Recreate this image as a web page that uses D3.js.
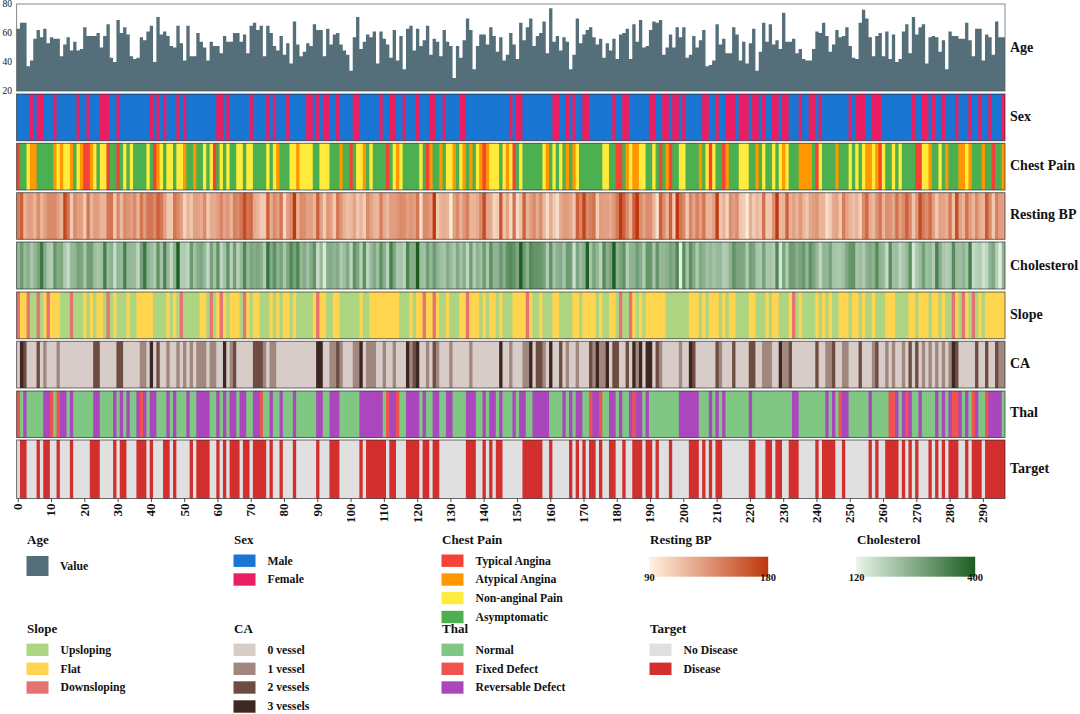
<!DOCTYPE html>
<html><head><meta charset="utf-8">
<script src="https://cdn.jsdelivr.net/npm/d3@7"></script>
<style>
html,body{margin:0;padding:0;background:#fff}
svg{display:block}
text{font-family:"Liberation Serif","Times New Roman",serif;font-weight:bold;fill:#111}
</style></head><body>
<svg id="c" width="1080" height="714"></svg>
<script>
const age=[63,67,67,37,41,56,62,57,63,53,57,56,56,44,52,57,48,54,48,49,64,58,58,58,60,50,58,66,43,40,69,60,64,59,44,42,43,57,55,61,65,40,71,59,61,58,51,50,65,53,41,65,44,44,60,54,50,41,54,51,51,46,58,54,54,60,60,54,59,46,65,67,62,65,44,65,60,51,48,58,45,53,39,68,52,44,47,53,51,66,62,62,44,63,52,59,60,52,48,45,34,57,71,49,54,59,57,61,39,61,56,52,43,62,41,58,35,63,65,48,63,51,55,65,45,56,54,44,62,54,51,29,51,43,55,70,62,35,51,59,59,52,64,58,47,57,41,45,60,52,42,67,55,64,70,51,58,60,68,46,77,54,58,48,57,54,35,45,70,53,59,62,64,57,52,56,43,53,48,56,42,59,60,63,42,66,54,69,50,51,62,68,67,69,45,50,59,50,64,57,64,43,45,58,50,55,62,37,38,41,66,52,56,46,46,64,59,41,54,39,53,63,34,47,67,54,66,52,55,49,74,54,54,56,46,49,42,41,41,49,61,60,67,58,47,52,62,57,58,64,51,43,42,67,76,70,57,44,58,60,44,61,42,59,40,42,61,66,46,71,59,64,66,39,57,58,57,47,55,35,61,58,58,56,56,67,55,44,63,63,41,59,57,45,68,57,57];
const sex=[1,1,1,1,0,1,0,0,1,1,1,0,1,1,1,1,1,1,0,1,1,0,1,1,1,0,0,0,1,1,0,1,1,1,1,1,1,1,1,1,0,1,0,1,0,1,1,1,0,1,0,1,1,1,1,1,1,1,1,1,0,0,1,0,1,1,1,1,1,1,0,1,1,1,1,0,1,0,1,1,1,0,1,1,1,1,1,0,0,1,0,1,0,0,1,1,0,1,1,1,1,0,0,1,1,1,1,1,1,0,1,1,0,0,1,1,0,1,1,1,0,1,1,1,0,0,1,1,0,1,1,1,1,0,0,1,1,1,1,1,1,1,1,1,1,1,1,1,0,1,0,0,1,1,1,1,1,1,1,1,1,0,0,1,1,0,1,0,1,1,0,0,1,1,1,1,1,1,1,0,1,1,0,0,1,1,1,1,1,1,0,0,1,1,0,0,1,0,0,1,0,1,1,1,1,1,0,0,1,1,0,1,1,0,0,0,1,0,0,0,1,0,0,1,0,1,1,0,0,1,0,0,1,1,1,0,1,1,0,0,1,0,1,1,1,1,1,1,1,1,0,1,0,0,0,1,1,0,0,0,1,1,1,1,1,1,1,1,1,0,1,1,0,0,1,0,1,1,0,1,1,1,0,1,1,1,0,1,1,0,1,1,0,1,1,1,0];
const chestPain=[1,4,4,3,2,2,4,4,4,4,4,2,3,2,3,3,2,4,3,2,1,1,2,3,4,3,3,1,4,4,1,4,3,4,3,4,4,4,4,3,4,1,2,3,4,3,3,4,3,3,2,4,4,2,4,4,3,4,3,1,4,3,4,3,4,4,3,3,4,3,3,4,4,4,4,3,4,3,2,4,4,4,3,3,2,3,3,3,3,4,4,3,3,3,4,4,4,2,4,4,1,4,3,3,2,4,3,4,4,4,4,1,4,3,2,3,4,4,4,4,4,3,4,1,2,4,4,2,4,3,3,2,4,3,2,4,2,4,3,2,1,2,3,3,3,4,3,2,3,1,4,3,4,4,4,4,4,4,3,2,4,3,4,3,4,2,4,2,3,4,4,4,4,4,4,4,3,3,4,4,1,1,4,2,3,2,2,3,3,4,4,3,4,1,4,2,1,4,4,3,3,4,4,4,4,2,4,3,1,3,4,4,1,2,4,4,4,3,3,3,4,4,2,4,3,4,4,3,4,3,2,3,4,4,4,2,2,2,2,4,1,3,4,4,4,4,2,4,4,4,3,4,3,4,3,2,2,3,2,1,3,4,4,3,4,3,4,4,4,4,1,1,3,3,2,4,4,3,4,2,4,4,4,2,2,3,2,4,4,4,2,4,4,1,4,4,2];
const restingBP=[145,160,120,130,130,120,140,120,130,140,140,140,130,120,172,150,110,140,130,130,110,150,120,132,130,120,120,150,150,110,140,117,140,135,130,140,120,150,132,150,150,140,160,150,130,112,110,150,140,130,105,120,112,130,130,124,140,110,125,125,130,142,128,135,120,145,140,150,170,150,155,125,120,110,110,160,125,140,130,150,104,130,140,180,120,140,138,128,130,120,160,130,108,135,128,110,150,134,122,115,118,128,110,120,108,140,128,120,118,145,125,118,132,130,135,140,138,130,135,130,150,100,140,138,130,200,110,120,124,120,94,130,140,122,135,145,120,120,125,140,170,128,125,105,108,165,112,128,102,152,102,115,160,120,130,140,125,140,118,101,125,110,100,124,132,132,126,112,160,142,174,140,145,152,108,132,130,130,124,134,148,178,158,140,120,160,192,140,129,140,138,120,100,160,138,120,160,110,180,150,140,110,142,128,144,130,150,120,120,130,178,112,120,105,138,130,138,112,108,94,123,108,118,112,152,110,112,136,180,118,120,160,122,130,120,134,120,110,126,130,134,120,120,100,110,125,128,110,146,128,120,115,120,106,140,156,124,118,136,150,120,138,136,126,152,130,140,160,140,112,134,170,146,138,154,130,110,130,128,122,148,114,170,130,120,152,132,120,140,124,120,164,140,110,144,130,130];
const cholesterol=[233,286,229,250,204,236,268,354,254,203,192,294,256,263,199,168,229,239,275,266,211,283,284,224,206,219,340,226,247,167,239,230,335,234,233,226,177,276,353,243,225,199,302,212,330,230,175,243,417,197,198,177,290,219,253,266,233,172,273,213,305,177,216,304,188,282,185,232,326,231,269,254,267,248,197,360,258,308,245,270,208,264,321,274,325,235,257,216,256,302,164,231,141,252,255,239,258,201,222,260,182,303,265,188,309,177,229,260,219,307,249,186,341,263,203,211,183,330,254,256,407,222,217,282,234,288,239,220,209,258,227,204,261,213,250,174,281,198,245,221,288,205,309,240,243,289,250,308,318,298,265,564,289,246,322,299,300,293,277,197,304,214,248,255,207,288,282,160,269,226,249,394,212,274,233,184,315,246,274,409,244,270,305,195,240,246,283,254,196,298,294,211,299,234,236,244,273,254,325,126,313,211,309,259,200,262,244,215,231,214,228,230,193,204,243,303,271,268,267,199,282,269,210,204,277,206,212,196,327,149,269,201,286,283,249,271,295,235,306,269,234,178,237,234,275,212,208,201,218,263,295,303,209,223,197,245,261,242,319,240,226,166,315,218,223,180,207,228,311,149,204,227,278,220,232,197,335,253,205,192,203,318,225,221,240,212,342,169,187,197,157,176,241,264,193,131,236];
const slope=[3,2,2,3,1,1,3,1,2,3,2,2,2,1,1,1,3,1,1,1,2,1,2,1,2,2,1,3,1,2,1,1,1,2,1,1,2,2,2,2,2,1,1,1,1,2,1,2,1,3,1,1,1,1,1,2,2,1,3,1,2,3,2,1,2,2,2,1,3,2,1,2,2,1,1,1,2,1,2,1,2,2,1,2,1,1,1,1,1,2,3,2,2,1,1,2,2,1,1,1,1,1,1,2,1,1,2,2,2,2,2,2,2,2,2,1,1,1,2,1,2,2,3,2,2,3,2,1,1,2,1,1,1,2,2,3,2,2,2,1,2,1,2,2,1,2,1,1,1,2,2,2,2,3,2,1,1,2,1,1,1,2,2,1,1,1,1,2,2,1,2,2,2,2,1,2,1,1,2,2,1,3,1,1,3,2,1,2,1,2,2,2,2,2,2,1,1,1,1,1,1,1,2,2,2,1,2,1,2,2,2,1,2,1,2,2,1,1,1,1,2,2,1,1,1,2,1,2,2,1,1,1,2,3,1,2,1,1,1,1,2,1,2,1,2,1,1,2,2,2,1,2,2,1,2,1,1,2,1,1,1,2,2,2,1,1,1,1,2,2,1,2,2,2,1,2,2,1,2,1,1,3,2,1,3,2,1,3,1,2,1,2,2,2,2,2,2];
const ca=[0,3,2,0,0,0,2,0,1,0,0,0,1,0,0,0,0,0,0,0,0,0,0,2,2,0,0,0,0,0,2,2,0,0,0,0,0,1,1,0,3,0,2,0,0,1,0,0,1,0,1,0,1,0,1,1,1,0,1,1,0,0,3,0,1,2,0,0,0,0,0,2,2,2,1,0,1,1,0,0,0,0,0,0,0,0,0,0,0,0,3,3,0,0,1,1,2,1,0,0,0,1,1,3,0,1,1,1,0,0,1,0,0,1,0,0,0,3,1,2,3,0,0,1,0,2,1,0,0,0,1,0,0,0,0,0,1,0,0,0,0,0,0,0,0,3,0,0,1,0,0,0,1,1,3,0,2,2,1,0,3,0,0,2,0,1,0,0,1,0,0,0,2,1,3,1,1,3,0,2,2,0,0,2,0,3,1,3,0,3,3,0,2,1,0,0,0,0,0,1,0,0,3,2,0,0,0,0,0,0,2,1,0,0,0,2,0,0,0,0,2,2,0,0,1,1,1,0,0,3,1,1,2,0,0,0,0,0,0,0,2,0,0,1,1,2,0,0,1,1,0,0,0,2,0,0,0,1,2,0,0,1,0,1,0,0,1,0,2,0,2,0,1,0,1,0,1,0,1,0,1,3,2,0,0,0,0,0,2,0,0,2,0,0,2,1,1];
const thal=[6,3,7,3,3,3,3,3,7,7,6,3,6,7,7,3,7,3,3,3,3,3,3,7,7,3,3,3,3,7,3,7,3,7,3,3,7,6,7,3,7,7,3,3,3,7,3,7,3,3,3,7,3,3,7,7,7,7,3,3,7,3,7,3,7,7,3,7,7,3,3,7,7,6,3,3,7,3,3,7,3,3,3,7,3,3,3,3,3,3,7,7,3,3,7,7,7,3,3,3,3,3,3,7,7,7,7,7,7,7,3,6,7,7,6,3,3,7,7,7,7,3,7,3,3,7,7,3,3,7,7,3,3,3,3,7,7,7,3,3,7,3,7,7,3,7,3,3,3,7,3,7,7,3,3,7,7,7,7,7,3,3,3,3,7,3,7,3,7,7,3,3,6,7,7,6,3,3,7,7,3,7,3,3,7,6,7,7,3,7,3,3,3,3,3,3,3,3,3,7,7,7,7,7,7,3,3,3,7,3,7,3,7,3,3,3,3,3,3,3,7,3,3,3,3,3,3,3,3,3,3,3,3,7,7,3,3,3,3,3,3,3,3,7,3,7,3,6,7,7,3,3,3,3,3,3,7,3,3,3,3,3,6,6,7,3,7,6,7,3,3,7,3,3,3,3,7,3,7,3,7,6,6,7,3,7,3,6,7,3,3,6,7,7,7,7,3];
const target=[0,1,1,0,0,0,1,0,1,1,0,0,1,0,0,0,1,0,0,0,0,0,1,1,1,0,0,0,0,1,0,1,1,0,0,0,1,1,1,0,1,0,0,0,1,1,0,1,0,0,0,0,1,0,1,1,1,1,0,0,1,0,1,0,1,1,1,0,1,1,0,1,1,1,1,0,1,0,0,1,0,0,0,1,0,0,0,0,0,0,1,0,0,0,1,1,1,0,0,0,0,0,0,1,0,1,1,1,1,1,1,0,1,1,0,0,0,1,1,1,1,0,1,1,0,1,1,0,0,0,0,0,0,0,0,1,1,1,0,0,1,0,1,0,1,1,0,0,0,0,0,0,1,1,1,1,1,1,0,0,1,0,0,0,0,0,1,0,1,0,1,0,1,1,0,1,0,0,1,1,0,0,1,0,0,1,1,1,0,1,1,0,1,0,0,0,1,0,0,0,0,0,1,1,1,0,1,0,1,0,1,1,0,0,0,0,0,0,0,0,1,1,0,0,0,1,1,0,1,1,0,0,1,1,1,0,0,0,0,0,1,0,1,1,1,1,0,0,1,0,0,0,0,0,0,0,1,0,1,0,0,1,1,1,1,0,1,0,1,0,1,0,0,0,1,0,1,0,1,0,1,1,1,0,0,1,0,1,1,1,0,1,1,1,1,1,1];

const sexLabels=["Male","Female"], sexKeys=[1,0], sexColors=["#1976D2","#E91E63"];
const cpLabels=["Typical Angina","Atypical Angina","Non-anginal Pain","Asymptomatic"], cpKeys=[1,2,3,4], cpColors=["#F44336","#FF9800","#FFEB3B","#4CAF50"];
const slopeLabels=["Upsloping","Flat","Downsloping"], slopeKeys=[1,2,3], slopeColors=["#AED581","#FFD54F","#E57373"];
const caLabels=["0 vessel","1 vessel","2 vessels","3 vessels"], caKeys=[0,1,2,3], caColors=["#D7CCC8","#A1887F","#6D4C41","#3E2723"];
const thalLabels=["Normal","Fixed Defect","Reversable Defect"], thalKeys=[3,6,7], thalColors=["#81C784","#EF5350","#AB47BC"];
const targetLabels=["No Disease","Disease"], targetKeys=[0,1], targetColors=["#E0E0E0","#D32F2F"];
const ageTicks=[20,40,60,80];
const recordTicks=d3.range(0,291,10);

const svg=d3.select("#c");
const X0=16.6,X1=1005;
const n=age.length;
const x=d3.scaleBand().domain(d3.range(n)).range([X0,X1]).padding(0);
const bw=x.bandwidth();
const ord=(k,c)=>d3.scaleOrdinal().domain(k).range(c);
const clampLin=(d,r)=>d3.scaleLinear().domain(d).range(r).clamp(true);

const ageY=d3.scaleLinear().domain([20,80]).range([91,4]);
const ageColor="#546E7A";

function frameRect(y0,y1,col,op){
  svg.append("rect").attr("x",X0).attr("y",y0).attr("width",X1-X0).attr("height",y1-y0)
    .attr("fill","none").attr("stroke",col).attr("stroke-opacity",op).attr("stroke-width",1);
}
// Age: a single stepped area, so neighbouring bars leave no seams
const ageArea=d3.area().curve(d3.curveStepAfter)
  .x((d,i)=>i<n?x(i):X1).y0(ageY(20)).y1(d=>ageY(d));
svg.append("path").attr("d",ageArea(age.concat(age[n-1]))).attr("fill",ageColor);
frameRect(4,91,"#555",0.7);
ageTicks.forEach(t=>{svg.append("text").attr("x",12).attr("y",ageY(t)).attr("dy","0.33em")
  .attr("text-anchor","end").style("font-size","9.5px").style("font-weight","normal").text(t);});
svg.append("text").attr("x",1010).attr("y",47).attr("dy","0.33em").style("font-size","14px").text("Age");

const rows=[
 {name:"Sex",vals:sex,color:ord(sexKeys,sexColors),y0:94,y1:140.7,ly:116},
 {name:"Chest Pain",vals:chestPain,color:ord(cpKeys,cpColors),y0:143.3,y1:190,ly:165},
 {name:"Resting BP",vals:restingBP,color:clampLin([90,180],["#FFF3E0","#BF360C"]),y0:192.7,y1:239.3,ly:214.5},
 {name:"Cholesterol",vals:cholesterol,color:clampLin([120,400],["#E8F5E9","#1B5E20"]),y0:242,y1:289,ly:265},
 {name:"Slope",vals:slope,color:ord(slopeKeys,slopeColors),y0:292,y1:338.7,ly:314},
 {name:"CA",vals:ca,color:ord(caKeys,caColors),y0:341.3,y1:388,ly:363},
 {name:"Thal",vals:thal,color:ord(thalKeys,thalColors),y0:391,y1:437.5,ly:412},
 {name:"Target",vals:target,color:ord(targetKeys,targetColors),y0:440,y1:498.5,ly:468}
];
rows.forEach(r=>{
  svg.append("g").selectAll("rect").data(r.vals).join("rect")
    .attr("x",(d,i)=>x(i)).attr("width",(d,i)=>i===n-1?bw:bw+1)
    .attr("y",r.y0).attr("height",r.y1-r.y0).attr("fill",d=>r.color(d));
  frameRect(r.y0,r.y1,"#222",0.65);
  svg.append("text").attr("x",1010).attr("y",r.ly).attr("dy","0.33em").style("font-size","14px").text(r.name);
});
// x ticks
const gx=svg.append("g");
recordTicks.forEach(t=>{
  const px=x(t)+bw/2;
  gx.append("line").attr("x1",px).attr("x2",px).attr("y1",498.5).attr("y2",502).attr("stroke","#222").attr("stroke-width",0.8);
  gx.append("text").attr("transform",`translate(${px},503.5) rotate(-90)`).attr("dy","0.3em")
    .attr("text-anchor","end").style("font-size","13px").text(t);
});
// Legends
function title(tx,ty,s){svg.append("text").attr("x",tx).attr("y",ty).attr("dy","0.33em").style("font-size","13px").text(s);}
function cat(tx,ty,ttl,labels,colors,ys){
  title(tx,ty,ttl);
  labels.forEach((l,i)=>{
    svg.append("rect").attr("x",tx-0.5).attr("y",ys[i]-6.2).attr("width",22).attr("height",12.4).attr("fill",colors[i]);
    svg.append("text").attr("x",tx+33.5).attr("y",ys[i]).attr("dy","0.33em").style("font-size","11.7px").text(l);
  });
}
const R1=[560.7,579.5,598,617], R2=[649.8,668.8,687.5,706.5];
title(27,540,"Age");
svg.append("rect").attr("x",26.5).attr("y",556).attr("width",22).attr("height",20).attr("fill",ageColor);
svg.append("text").attr("x",60).attr("y",566).attr("dy","0.33em").style("font-size","11.7px").text("Value");
cat(234,540,"Sex",sexLabels,sexColors,R1);
cat(442,540,"Chest Pain",cpLabels,cpColors,R1);
cat(27,629,"Slope",slopeLabels,slopeColors,R2);
cat(234,629,"CA",caLabels,caColors,R2);
cat(442,629,"Thal",thalLabels,thalColors,R2);
cat(650,629,"Target",targetLabels,targetColors,R2);
const defs=svg.append("defs");
function grad(id,tx,ttl,rng,lab){
  const g=defs.append("linearGradient").attr("id",id);
  g.append("stop").attr("offset","0%").attr("stop-color",rng[0]);
  g.append("stop").attr("offset","100%").attr("stop-color",rng[1]);
  title(tx,540,ttl);
  svg.append("rect").attr("x",tx-0.8).attr("y",556.7).attr("width",119).attr("height",20).attr("fill",`url(#${id})`);
  svg.append("text").attr("x",tx-0.5).attr("y",577.5).attr("dy","0.33em").attr("text-anchor","middle").style("font-size","10.5px").text(lab[0]);
  svg.append("text").attr("x",tx+118).attr("y",577.5).attr("dy","0.33em").attr("text-anchor","middle").style("font-size","10.5px").text(lab[1]);
}
grad("gbp",650,"Resting BP",["#FFF3E0","#BF360C"],[90,180]);
grad("gch",857,"Cholesterol",["#E8F5E9","#1B5E20"],[120,400]);
</script>
</body></html>
